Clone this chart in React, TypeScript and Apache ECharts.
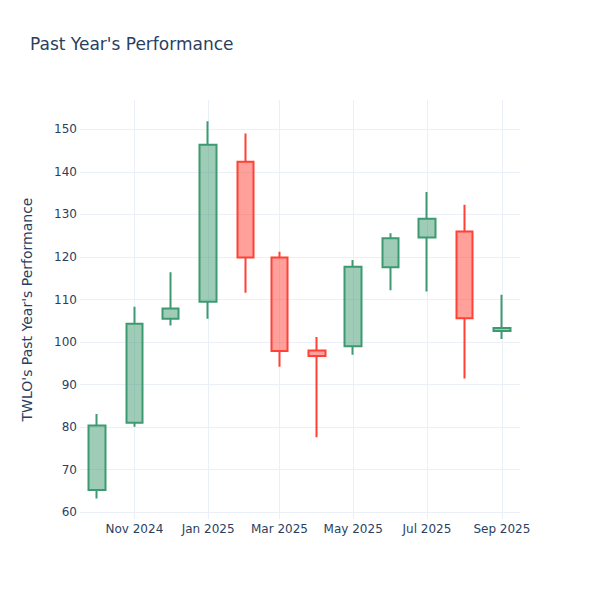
import React, { useEffect, useRef } from "react";
import * as echarts from "echarts";

const months = [
  "2024-10-01", "2024-11-01", "2024-12-01", "2025-01-01", "2025-02-01", "2025-03-01",
  "2025-04-01", "2025-05-01", "2025-06-01", "2025-07-01", "2025-08-01", "2025-09-01",
];
const openValues = [65.2, 81.0, 105.5, 109.5, 142.4, 119.9, 98.0, 99.0, 117.6, 124.6, 126.0, 102.6];
const closeValues = [80.4, 104.3, 107.9, 146.4, 119.9, 97.9, 96.7, 117.7, 124.4, 129.0, 105.6, 103.3];
const lowValues = [63.2, 80.1, 103.9, 105.5, 111.6, 94.2, 77.6, 97.0, 112.2, 111.9, 91.4, 100.7];
const highValues = [83.1, 108.3, 116.4, 151.9, 149.0, 121.2, 101.2, 119.3, 125.6, 135.3, 132.3, 111.1];
const monthNames = ["Jan", "Feb", "Mar", "Apr", "May", "Jun", "Jul", "Aug", "Sep", "Oct", "Nov", "Dec"];

const xMin = "2024-09-17";
const xMax = "2025-09-16";
const yMin = 58.4;
const yMax = 156.9;

export default function App() {
  const ref = useRef<HTMLDivElement>(null);
  useEffect(() => {
    if (!ref.current) return;
    const chart = echarts.init(ref.current, null, { renderer: "svg" });
    const data = months.map((m, i) => [m, openValues[i], closeValues[i], lowValues[i], highValues[i]]);
    const font = "DejaVu Sans";
    chart.setOption({
      animation: false,
      backgroundColor: "#ffffff",
      textStyle: { fontFamily: font },
      title: {
        text: "Past Year's Performance",
        left: 25,
        top: 30,
        textStyle: { color: "#2a3f5f", fontSize: 17, fontWeight: "normal", fontFamily: font },
      },
      grid: { left: 80, right: 80, top: 100, bottom: 81 },
      xAxis: {
        type: "time",
        min: xMin,
        max: xMax,
        splitNumber: 6,
        axisLine: { show: false },
        axisTick: { show: false },
        splitLine: {
          show: true,
          showMinLine: false,
          showMaxLine: false,
          lineStyle: { color: "#EBF0F8", width: 1 },
        },
        axisLabel: {
          color: "#2a3f5f",
          fontSize: 12,
          fontFamily: font,
          margin: 4,
          showMinLabel: false,
          showMaxLabel: false,
          hideOverlap: false,
          formatter: (v: number) => {
            const d = new Date(v);
            return monthNames[d.getMonth()] + " " + d.getFullYear();
          },
        },
      },
      yAxis: {
        type: "value",
        min: yMin,
        max: yMax,
        splitNumber: 10,
        name: "TWLO's Past Year's Performance",
        nameLocation: "middle",
        nameGap: 46,
        nameTextStyle: { color: "#2a3f5f", fontSize: 14, fontFamily: font },
        axisLine: { show: false },
        axisTick: { show: false },
        splitLine: {
          show: true,
          showMinLine: false,
          showMaxLine: false,
          lineStyle: { color: "#EBF0F8", width: 1 },
        },
        axisLabel: {
          color: "#2a3f5f",
          fontSize: 12,
          fontFamily: font,
          margin: 3,
          showMinLabel: false,
          showMaxLabel: false,
        },
      },
      series: [
        {
          type: "candlestick",
          data,
          barWidth: 17,
          itemStyle: {
            color: "rgba(61,153,112,0.5)",
            color0: "rgba(255,65,54,0.5)",
            borderColor: "#3D9970",
            borderColor0: "#FF4136",
            borderWidth: 2,
          },
        },
      ],
    });
    return () => chart.dispose();
  }, []);
  return <div ref={ref} style={{ position: "fixed", left: 0, top: 0, width: 600, height: 600 }} />;
}
